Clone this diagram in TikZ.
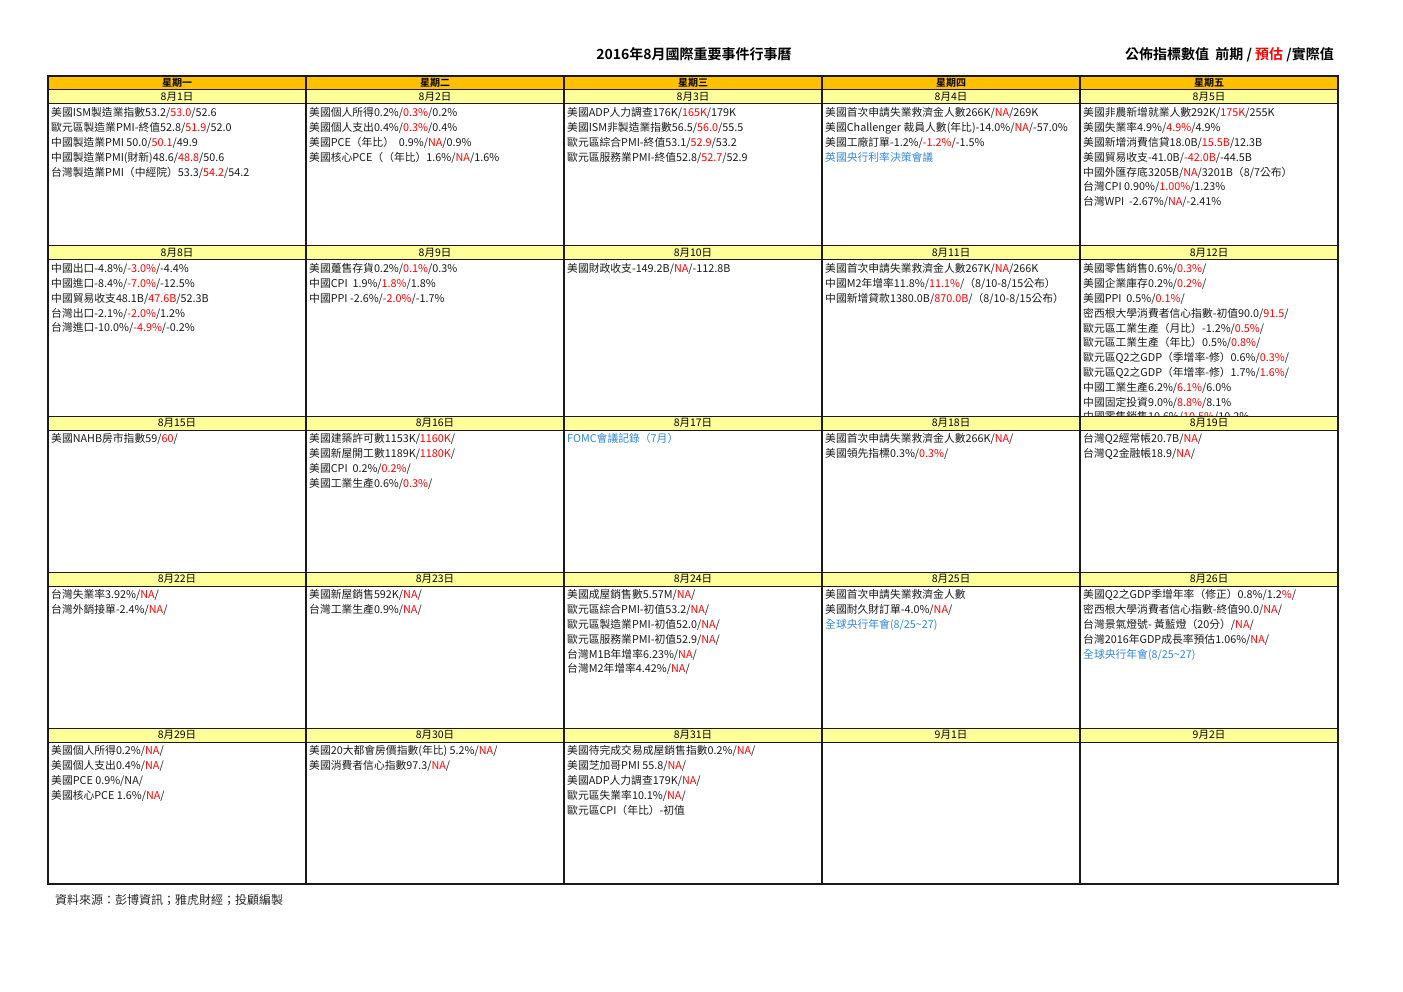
\documentclass[tikz,border=0pt]{standalone}
\usepackage{fontspec}
\setmainfont{Noto Sans CJK TC}[BoldFont={Noto Sans CJK TC Bold}]
\definecolor{hdrorange}{HTML}{FFC000}
\definecolor{dateyel}{HTML}{FFFF99}
\definecolor{nared}{HTML}{FF0000}
\definecolor{linkblue}{HTML}{2E86D8}
\definecolor{gridline}{HTML}{1A1A1A}
\newcommand\redv[1]{\textcolor{nared}{#1}}
\newcommand\bluev[1]{\textcolor{linkblue}{#1}}
\tikzset{
  celltxt/.style={anchor=north west, inner sep=0pt, align=left, font=\fontsize{10.8}{14.8}\selectfont, text=black!90},
  dayhdr/.style={inner sep=0pt, font=\bfseries\fontsize{10}{11}\selectfont},
  datehdr/.style={inner sep=0pt, font=\fontsize{10.5}{11}\selectfont},
  gridln/.style={draw=gridline, line width=1.3pt},
  thinln/.style={draw=gridline, line width=1pt},
}
\begin{document}
\begin{tikzpicture}[x=1pt,y=-1pt]
\useasboundingbox (0,0) rectangle (1403,992);
% titles
\node[inner sep=0pt, font=\bfseries\fontsize{14}{16}\selectfont] (title) at (694,54) {2016年8月國際重要事件行事曆};
\node[inner sep=0pt, anchor=east, font=\bfseries\fontsize{14}{16}\selectfont] (legend) at (1334,55) {公佈指標數值\ \ 前期 / \redv{預估} /實際值};
% fills
\fill[hdrorange] (48,76) rectangle (1338,90);
\foreach \t in {90,246,416,572,728} {\fill[dateyel] (48,\t) rectangle (1338,\t+14);}
% grid
\foreach \t in {90,104,246,260,416,430,572,586,728,742} {\draw[thinln] (48,\t) -- (1338,\t);}
\foreach \c in {306,564,822,1080} {\draw[gridln] (\c,76) -- (\c,884);}
\draw[gridln] (48,76) rectangle (1338,884);
% day headers
\node[dayhdr] (mon) at (177,83) {星期一};
\node[dayhdr] (tue) at (435,83) {星期二};
\node[dayhdr] (wed) at (693,83) {星期三};
\node[dayhdr] (thu) at (951,83) {星期四};
\node[dayhdr] (fri) at (1209,83) {星期五};
% dates
\foreach \lab/\cx/\cy [count=\i] in {8月1日/177/97,8月2日/435/97,8月3日/693/97,8月4日/951/97,8月5日/1209/97,
  8月8日/177/253,8月9日/435/253,8月10日/693/253,8月11日/951/253,8月12日/1209/253,
  8月15日/177/423,8月16日/435/423,8月17日/693/423,8月18日/951/423,8月19日/1209/423,
  8月22日/177/579,8月23日/435/579,8月24日/693/579,8月25日/951/579,8月26日/1209/579,
  8月29日/177/735,8月30日/435/735,8月31日/693/735,9月1日/951/735,9月2日/1209/735}
  {\node[datehdr] (date\i) at (\cx,\cy) {\lab};}
% week 1
\node[celltxt] (c1) at (51,107.5) {美國ISM製造業指數53.2/\redv{53.0}/52.6\\歐元區製造業PMI-終值52.8/\redv{51.9}/52.0\\中國製造業PMI 50.0/\redv{50.1}/49.9\\中國製造業PMI(財新)48.6/\redv{48.8}/50.6\\台灣製造業PMI（中經院）53.3/\redv{54.2}/54.2};
\node[celltxt] (c2) at (309,107.5) {美國個人所得0.2\%/\redv{0.3\%}/0.2\%\\美國個人支出0.4\%/\redv{0.3\%}/0.4\%\\美國PCE（年比）\ \ 0.9\%/\redv{NA}/0.9\%\\美國核心PCE（（年比）1.6\%/\redv{NA}/1.6\%};
\node[celltxt] (c3) at (567,107.5) {美國ADP人力調查176K/\redv{165K}/179K\\美國ISM非製造業指數56.5/\redv{56.0}/55.5\\歐元區綜合PMI-終值53.1/\redv{52.9}/53.2\\歐元區服務業PMI-終值52.8/\redv{52.7}/52.9};
\node[celltxt] (c4) at (825,107.5) {美國首次申請失業救濟金人數266K/\redv{NA}/269K\\美國Challenger 裁員人數(年比)-14.0\%/\redv{NA}/-57.0\%\\美國工廠訂單-1.2\%/\redv{-1.2\%}/-1.5\%\\\bluev{英國央行利率決策會議}};
\node[celltxt] (c5) at (1083,107.5) {美國非農新增就業人數292K/\redv{175K}/255K\\美國失業率4.9\%/\redv{4.9\%}/4.9\%\\美國新增消費信貸18.0B/\redv{15.5B}/12.3B\\美國貿易收支-41.0B/\redv{-42.0B}/-44.5B\\中國外匯存底3205B/\redv{NA}/3201B（8/7公布）\\台灣CPI 0.90\%/\redv{1.00\%}/1.23\%\\台灣WPI\ \ -2.67\%/\redv{NA}/-2.41\%};
% week 2
\node[celltxt] (c6) at (51,263.5) {中國出口-4.8\%/\redv{-3.0\%}/-4.4\%\\中國進口-8.4\%/\redv{-7.0\%}/-12.5\%\\中國貿易收支48.1B/\redv{47.6B}/52.3B\\台灣出口-2.1\%/\redv{-2.0\%}/1.2\%\\台灣進口-10.0\%/\redv{-4.9\%}/-0.2\%};
\node[celltxt] (c7) at (309,263.5) {美國躉售存貨0.2\%/\redv{0.1\%}/0.3\%\\中國CPI\ \ 1.9\%/\redv{1.8\%}/1.8\%\\中國PPI -2.6\%/\redv{-2.0\%}/-1.7\%};
\node[celltxt] (c8) at (567,263.5) {美國財政收支-149.2B/\redv{NA}/-112.8B};
\node[celltxt] (c9) at (825,263.5) {美國首次申請失業救濟金人數267K/\redv{NA}/266K\\中國M2年增率11.8\%/\redv{11.1\%}/（8/10-8/15公布）\\中國新增貸款1380.0B/\redv{870.0B}/（8/10-8/15公布）};
\begin{scope}
\clip (1080,260) rectangle (1338,415.5);
\node[celltxt] (c10) at (1083,263.5) {美國零售銷售0.6\%/\redv{0.3\%}/\\美國企業庫存0.2\%/\redv{0.2\%}/\\美國PPI\ \ 0.5\%/\redv{0.1\%}/\\密西根大學消費者信心指數-初值90.0/\redv{91.5}/\\歐元區工業生產（月比）-1.2\%/\redv{0.5\%}/\\歐元區工業生產（年比）0.5\%/\redv{0.8\%}/\\歐元區Q2之GDP（季增率-修）0.6\%/\redv{0.3\%}/\\歐元區Q2之GDP（年增率-修）1.7\%/\redv{1.6\%}/\\中國工業生產6.2\%/\redv{6.1\%}/6.0\%\\中國固定投資9.0\%/\redv{8.8\%}/8.1\%\\中國零售銷售10.6\%/\redv{10.5\%}/10.2\%};
\end{scope}
% week 3
\node[celltxt] (c11) at (51,433.5) {美國NAHB房市指數59/\redv{60}/};
\node[celltxt] (c12) at (309,433.5) {美國建築許可數1153K/\redv{1160K}/\\美國新屋開工數1189K/\redv{1180K}/\\美國CPI\ \ 0.2\%/\redv{0.2\%}/\\美國工業生產0.6\%/\redv{0.3\%}/};
\node[celltxt] (c13) at (567,433.5) {\bluev{FOMC會議記錄（7月）}};
\node[celltxt] (c14) at (825,433.5) {美國首次申請失業救濟金人數266K/\redv{NA}/\\美國領先指標0.3\%/\redv{0.3\%}/};
\node[celltxt] (c15) at (1083,433.5) {台灣Q2經常帳20.7B/\redv{NA}/\\台灣Q2金融帳18.9/\redv{NA}/};
% week 4
\node[celltxt] (c16) at (51,589.5) {台灣失業率3.92\%/\redv{NA}/\\台灣外銷接單-2.4\%/\redv{NA}/};
\node[celltxt] (c17) at (309,589.5) {美國新屋銷售592K/\redv{NA}/\\台灣工業生產0.9\%/\redv{NA}/};
\node[celltxt] (c18) at (567,589.5) {美國成屋銷售數5.57M/\redv{NA}/\\歐元區綜合PMI-初值53.2/\redv{NA}/\\歐元區製造業PMI-初值52.0/\redv{NA}/\\歐元區服務業PMI-初值52.9/\redv{NA}/\\台灣M1B年增率6.23\%/\redv{NA}/\\台灣M2年增率4.42\%/\redv{NA}/};
\node[celltxt] (c19) at (825,589.5) {美國首次申請失業救濟金人數\\美國耐久財訂單-4.0\%/\redv{NA}/\\\bluev{全球央行年會(8/25\textasciitilde 27)}};
\node[celltxt] (c20) at (1083,589.5) {美國Q2之GDP季增年率（修正）0.8\%/1.2\redv{\%}/\\密西根大學消費者信心指數-終值90.0/\redv{NA}/\\台灣景氣燈號- 黃藍燈（20分）/\redv{NA}/\\台灣2016年GDP成長率預估1.06\%/\redv{NA}/\\\bluev{全球央行年會(8/25\textasciitilde 27)}};
% week 5
\node[celltxt] (c21) at (51,745.5) {美國個人所得0.2\%/\redv{NA}/\\美國個人支出0.4\%/\redv{NA}/\\美國PCE 0.9\%/NA/\\美國核心PCE 1.6\%/\redv{NA}/};
\node[celltxt] (c22) at (309,745.5) {美國20大都會房價指數(年比) 5.2\%/\redv{NA}/\\美國消費者信心指數97.3/\redv{NA}/};
\node[celltxt] (c23) at (567,745.5) {美國待完成交易成屋銷售指數0.2\%/\redv{NA}/\\美國芝加哥PMI 55.8/\redv{NA}/\\美國ADP人力調查179K/\redv{NA}/\\歐元區失業率10.1\%/\redv{NA}/\\歐元區CPI（年比）-初值};
% footer
\node[inner sep=0pt, anchor=west, font=\fontsize{12}{13}\selectfont, text=black!85] (source) at (55,900) {資料來源：彭博資訊；雅虎財經；投顧編製};
\end{tikzpicture}
\end{document}
